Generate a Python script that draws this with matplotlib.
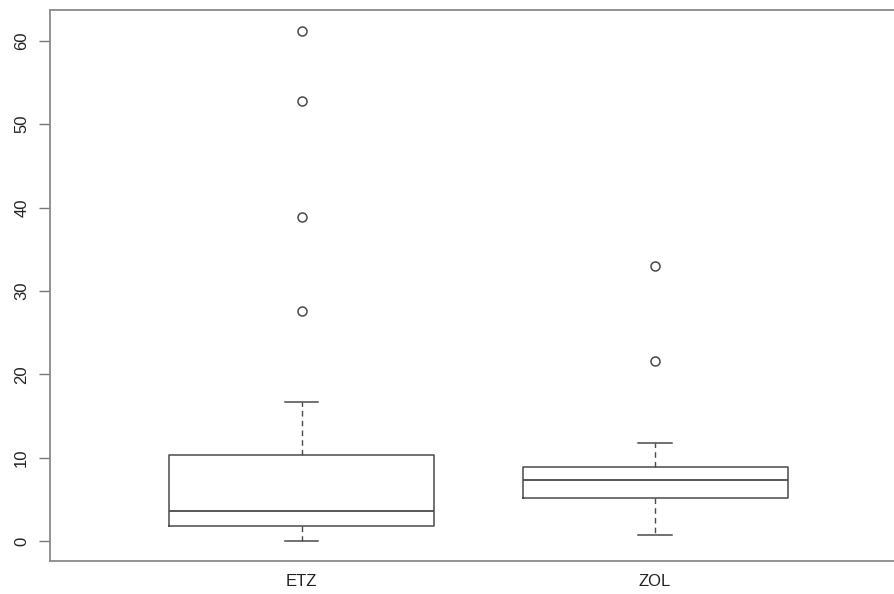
# Box plot of ETZ vs ZOL (R-style look)

import matplotlib
matplotlib.use('Agg')
from matplotlib import pyplot as plt

# Data

groups = ['ETZ', 'ZOL']
whisker_low = [0.0, 0.75]
q1 = [1.85, 5.2]
median = [3.6, 7.4]
q3 = [10.3, 8.95]
whisker_high = [16.7, 11.8]
outliers = [[27.6, 38.9, 52.8, 61.2], [21.6, 33.0]]

plt.rcParams['font.family'] = ['Liberation Sans', 'DejaVu Sans']

stats = []
for i, name in enumerate(groups):
    stats.append({
        'label': name,
        'whislo': whisker_low[i],
        'q1': q1[i],
        'med': median[i],
        'q3': q3[i],
        'whishi': whisker_high[i],
        'fliers': outliers[i],
    })

fig = plt.figure(figsize=(8.95, 5.94), dpi=100)

# Axes run past the right edge, like the cropped reference
ax = fig.add_axes([50 / 895, 33 / 594, 856.7 / 895, 551 / 594])

line_col = '#4a4a4a'

ax.bxp(stats, positions=[1, 2], widths=0.75, capwidths=0.095,
       boxprops=dict(color=line_col, linewidth=1.1),
       medianprops=dict(color=line_col, linewidth=1.3),
       whiskerprops=dict(color=line_col, linewidth=1.0, linestyle=(0, (4, 3))),
       capprops=dict(color=line_col, linewidth=1.1),
       flierprops=dict(marker='o', markersize=6.5, markerfacecolor='none',
                       markeredgecolor=line_col, markeredgewidth=1.1))

ax.set_xlim(0.288, 2.712)
ax.set_ylim(-2.36, 63.68)

ax.set_yticks([0, 10, 20, 30, 40, 50, 60])
ax.tick_params(axis='y', length=8, width=1, color='#777777', pad=7,
               labelsize=12, labelcolor='#222222')
for lab in ax.get_yticklabels():
    lab.set_rotation(90)
    lab.set_va('center')

ax.tick_params(axis='x', length=0, pad=9.5, labelsize=12, labelcolor='#222222')

for s in ax.spines.values():
    s.set_color('#8a8a8a')
    s.set_linewidth(1.3)

plt.savefig('out.png', dpi=100)
